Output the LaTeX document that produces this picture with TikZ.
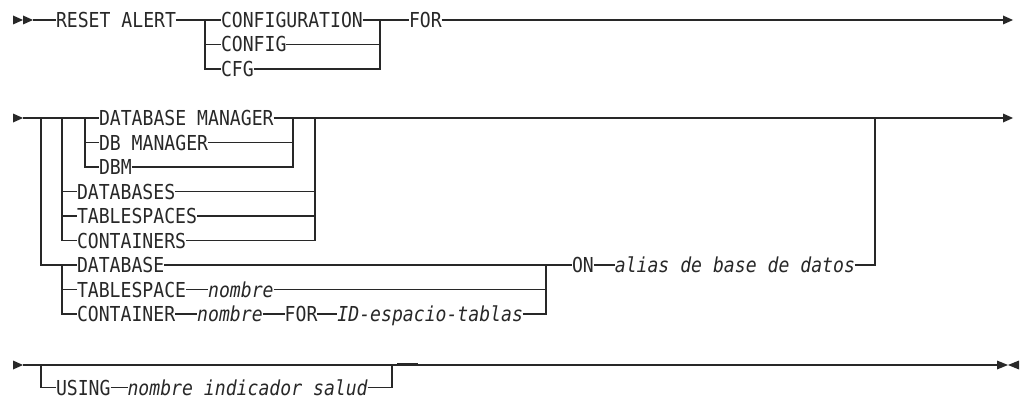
\documentclass[tikz,border=0pt]{standalone}
\usepackage{fontspec}
\newfontfamily\synfont[FakeStretch=0.88]{DejaVu Sans Mono}
\usetikzlibrary{positioning}
\definecolor{ink}{RGB}{40,40,40}
\begin{document}
\begin{tikzpicture}[x=1pt,y=-1pt,
  kw/.style={anchor=west, inner sep=0pt, outer sep=0pt, text height=15pt, text depth=0pt,
    font=\synfont\fontsize{20.6}{24}\selectfont, text=ink},
  var/.style={kw, font=\synfont\itshape\fontsize{20.6}{24}\selectfont},
  rail/.style={draw=ink, line width=1.3pt},
  tip/.style={fill=ink}]
\fill[white] (0,0) rectangle (1022,396);
\useasboundingbox (0,0) rectangle (1022,396);

% ---------- row 1 ----------
\fill[tip] (13,15.5) -- (23,20) -- (13,24.5) -- cycle;
\fill[tip] (23,15.5) -- (33,20) -- (23,24.5) -- cycle;
\coordinate (s1) at (33,20);
\node[kw] (reset) at (56,20) {RESET ALERT};
\coordinate (j1) at (205,20);
\node[kw] (configuration) at (221,20) {CONFIGURATION};
\node[kw] (config) at (221,44.5) {CONFIG};
\node[kw] (cfg) at (221,69) {CFG};
\coordinate (k1) at (380,20);
\node[kw] (for) at (409,20) {FOR};
\coordinate (e1) at (1003,20);
\draw[rail] (s1) -- (reset.west);
\draw[rail] (reset.east) -- (configuration.west);
\draw[rail] (configuration.east) -- (for.west);
\draw[rail] (for.east) -- (e1);
\fill[tip] (1003,15.5) -- (1013,20) -- (1003,24.5) -- cycle;
\draw[rail] (j1) |- (cfg.west);
\draw[rail] (j1 |- config) -- (config.west);
\draw[rail] (config.east) -- (config.east -| k1);
\draw[rail] (cfg.east) -| (k1);

% ---------- row 2 ----------
\fill[tip] (13,113.5) -- (23,118) -- (13,122.5) -- cycle;
\coordinate (s2) at (23,118);
\coordinate (a41) at (41,118);
\coordinate (a62) at (62,118);
\coordinate (a85) at (85,118);
\node[kw] (dbmgr) at (99,118) {DATABASE MANAGER};
\node[kw] (dbmanager) at (99,142.5) {DB MANAGER};
\node[kw] (dbm) at (99,167) {DBM};
\coordinate (c293) at (293,118);
\coordinate (c315) at (315,118);
\node[kw] (databases) at (77,191.5) {DATABASES};
\node[kw] (tablespaces) at (77,216) {TABLESPACES};
\node[kw] (containers) at (77,240.5) {CONTAINERS};
\node[kw] (database) at (77,265) {DATABASE};
\node[kw] (tablespace) at (77,289.5) {TABLESPACE};
\node[var, right=22pt of tablespace] (nombreA) {nombre};
\node[kw] (container) at (77,314) {CONTAINER};
\node[var, right=22pt of container] (nombreB) {nombre};
\node[kw, right=22pt of nombreB] (forB) {FOR};
\node[var, right=20pt of forB] (idesp) {ID-espacio-tablas};
\coordinate (c546) at (546,265);
\coordinate (d62) at (62,265);
\node[kw] (on) at (572,265) {ON};
\node[var, right=21pt of on] (alias) {alias de base de datos};
\coordinate (c875) at (875,118);
\coordinate (e2) at (1003,118);

\draw[rail] (s2) -- (dbmgr.west);
\draw[rail] (dbmgr.east) -- (e2);
\fill[tip] (1003,113.5) -- (1013,118) -- (1003,122.5) -- cycle;
\draw[rail] (a85) |- (dbm.west);
\draw[rail] (a85 |- dbmanager) -- (dbmanager.west);
\draw[rail] (dbmanager.east) -- (dbmanager.east -| c293);
\draw[rail] (dbm.east) -| (c293);
\draw[rail] (a62) |- (containers.west);
\draw[rail] (a62 |- databases) -- (databases.west);
\draw[rail] (a62 |- tablespaces) -- (tablespaces.west);
\draw[rail] (databases.east) -- (databases.east -| c315);
\draw[rail] (tablespaces.east) -- (tablespaces.east -| c315);
\draw[rail] (containers.east) -| (c315);
\draw[rail] (a41) |- (database.west);
\draw[rail] (d62) |- (container.west);
\draw[rail] (d62 |- tablespace) -- (tablespace.west);
\draw[rail] (tablespace.east) -- (nombreA.west);
\draw[rail] (nombreA.east) -- (nombreA.east -| c546);
\draw[rail] (container.east) -- (nombreB.west);
\draw[rail] (nombreB.east) -- (forB.west);
\draw[rail] (forB.east) -- (idesp.west);
\draw[rail] (idesp.east) -| (c546);
\draw[rail] (database.east) -- (on.west);
\draw[rail] (on.east) -- (alias.west);
\draw[rail] (alias.east) -| (c875);

% ---------- row 3 ----------
\fill[tip] (13,360.5) -- (23,365) -- (13,369.5) -- cycle;
\coordinate (s3) at (23,365);
\coordinate (a41c) at (41,365);
\node[kw] (using) at (56,387.5) {USING};
\node[var, right=17pt of using] (nis) {nombre indicador salud};
\coordinate (c392) at (392,365);
\coordinate (e3) at (997,365);
\draw[rail] (s3) -- (e3);
\draw[rail] (a41c) |- (using.west);
\draw[rail] (using.east) -- (nis.west);
\draw[rail] (nis.east) -| (c392);
\draw[ink, line width=2.6pt] (397,364.5) -- (418,364.5);
\fill[tip] (997,360.5) -- (1008,365) -- (997,369.5) -- cycle;
\fill[tip] (1019,360.5) -- (1008,365) -- (1019,369.5) -- cycle;
\end{tikzpicture}
\end{document}
